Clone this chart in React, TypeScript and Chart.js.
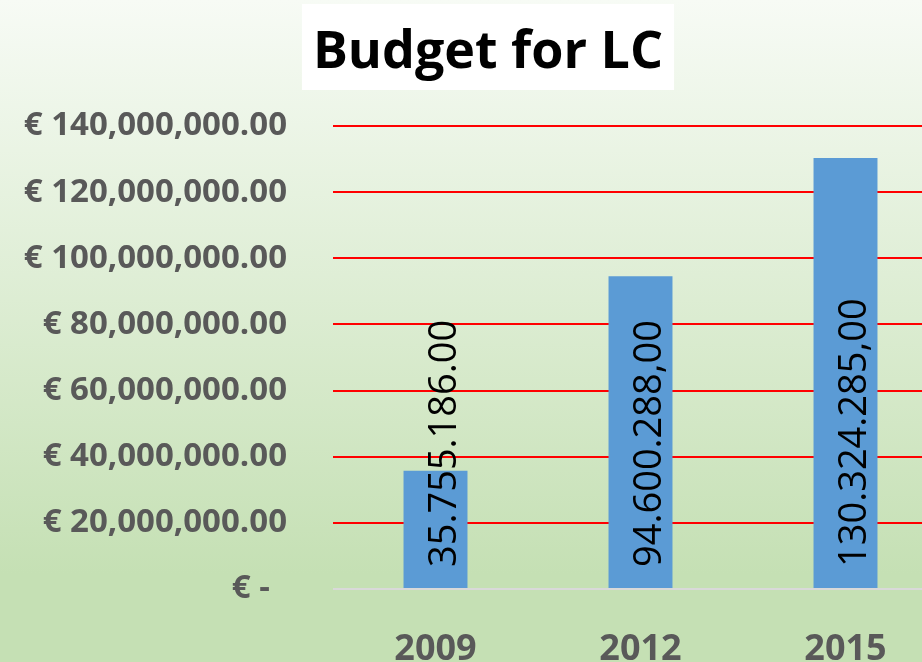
import { useEffect, useRef } from 'react';
import { Chart, registerables } from 'chart.js';

Chart.register(...registerables);

const titleText = 'Budget for LC';
const years = ['2009', '2012', '2015'];
const budget = [35755186, 94600288, 130324285];
const budgetLabels = ['35.755.186.00', '94.600.288,00', '130.324.285,00'];
const yTickLabels = [
  '€ -  ',
  '€ 20,000,000.00',
  '€ 40,000,000.00',
  '€ 60,000,000.00',
  '€ 80,000,000.00',
  '€ 100,000,000.00',
  '€ 120,000,000.00',
  '€ 140,000,000.00',
];
const yMax = 140000000;
const yStep = 20000000;

const FONT = "'Open Sans', 'Noto Sans', sans-serif";
const GRAY = '#595959';

const backgroundPlugin = {
  id: 'bgTitle',
  beforeDraw(chart: any) {
    const { ctx, width, height } = chart;
    ctx.save();
    const g = ctx.createLinearGradient(0, 0, 0, height);
    g.addColorStop(0, '#f7fbf5');
    g.addColorStop(0.82, '#c5e0b4');
    g.addColorStop(1, '#c5e0b4');
    ctx.fillStyle = g;
    ctx.fillRect(0, 0, width, height);

    ctx.font = `bold 52px ${FONT}`;
    const tw = ctx.measureText(titleText).width;
    const cx = width / 2;
    const bw = tw + 22;
    ctx.fillStyle = '#ffffff';
    ctx.fillRect(cx - bw / 2, 4, bw, 86);
    ctx.fillStyle = '#000000';
    ctx.textAlign = 'center';
    ctx.textBaseline = 'alphabetic';
    ctx.fillText(titleText, cx, 68);
    ctx.restore();
  },
};

const barLabelPlugin = {
  id: 'barLabels',
  afterDatasetsDraw(chart: any) {
    const { ctx } = chart;
    const meta = chart.getDatasetMeta(0);
    ctx.save();
    ctx.font = `38px ${FONT}`;
    ctx.fillStyle = '#000000';
    ctx.textAlign = 'left';
    ctx.textBaseline = 'alphabetic';
    meta.data.forEach((bar: any, i: number) => {
      const { x, base } = bar.getProps(['x', 'base'], true);
      ctx.save();
      ctx.translate(x + 20, base - 21);
      ctx.rotate(-Math.PI / 2);
      ctx.fillText(budgetLabels[i], 0, 0);
      ctx.restore();
    });
    ctx.restore();
  },
};

export default function App() {
  const ref = useRef<HTMLCanvasElement | null>(null);

  useEffect(() => {
    if (!ref.current) return;
    const chart = new Chart(ref.current, {
      type: 'bar',
      data: {
        labels: years,
        datasets: [
          {
            data: budget,
            backgroundColor: '#5b9bd5',
            borderWidth: 0,
            barPercentage: 0.312,
            categoryPercentage: 1,
          },
        ],
      },
      options: {
        responsive: false,
        animation: false,
        devicePixelRatio: 1,
        layout: { padding: { top: 126, right: 28, left: 0, bottom: 0 } },
        plugins: {
          legend: { display: false },
          title: { display: false },
          tooltip: { enabled: false },
        },
        scales: {
          x: {
            grid: { display: false },
            border: { display: false },
            ticks: {
              color: GRAY,
              font: { family: FONT, size: 36, weight: 'bold' },
              padding: 31,
            },
            afterFit: (s: any) => {
              s.height = 111;
            },
          },
          y: {
            min: 0,
            max: yMax,
            border: { display: false },
            grid: {
              color: (c: any) => (c.tick && c.tick.value === 0 ? '#d9d9d9' : '#ff0000'),
              lineWidth: 2,
              drawTicks: false,
            },
            ticks: {
              stepSize: yStep,
              color: GRAY,
              font: { family: FONT, size: 33, weight: 'bold' },
              padding: 46,
              callback: (_v: any, i: number) => yTickLabels[i],
            },
            afterFit: (s: any) => {
              s.width = 333;
            },
          },
        },
      } as any,
      plugins: [backgroundPlugin, barLabelPlugin],
    });
    return () => chart.destroy();
  }, []);

  return (
    <div
      style={{
        position: 'fixed',
        left: 0,
        top: 0,
        width: 922,
        height: 662,
        overflow: 'hidden',
      }}
    >
      <canvas ref={ref} width={976} height={700} style={{ display: 'block' }} />
    </div>
  );
}
